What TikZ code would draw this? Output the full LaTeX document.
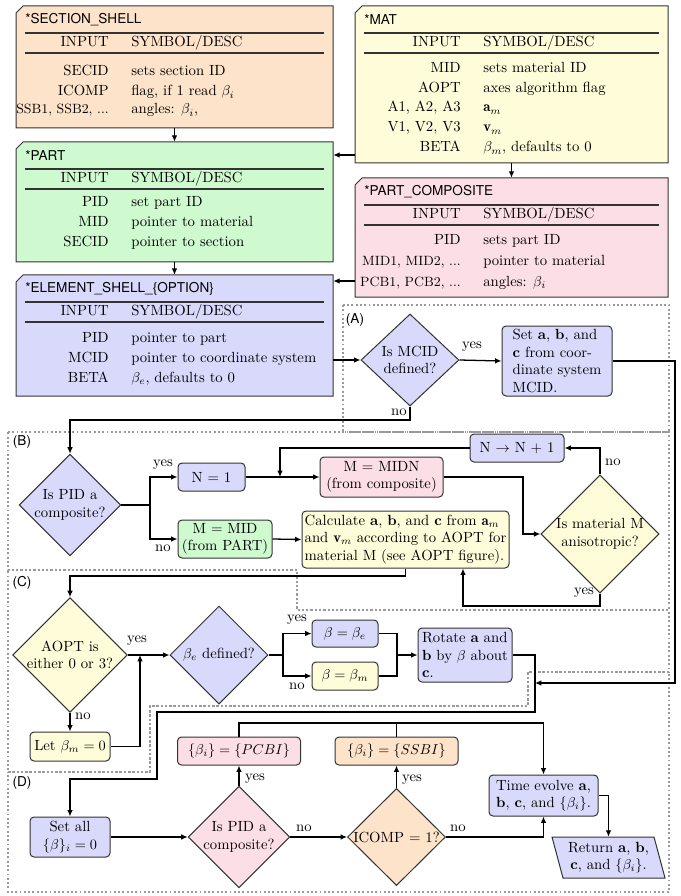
\documentclass[tikz,border=0pt]{standalone}
\usepackage{fontspec}
\newfontfamily\hd{TeX Gyre Heros}
\usetikzlibrary{arrows.meta,shapes.geometric}
\definecolor{cpeach}{HTML}{FDE3C9}
\definecolor{cyellow}{HTML}{FFFDD9}
\definecolor{cgreen}{HTML}{CFF9CF}
\definecolor{cpink}{HTML}{FCDEE7}
\definecolor{cblue}{HTML}{D9DAFB}
\definecolor{cedge}{HTML}{333333}
\definecolor{cdot}{HTML}{9A9A9A}
\newcommand{\sq}{\fontsize{9.4}{11}\selectfont}
\newcommand{\tbox}[8]{%
  \filldraw[fill=#6, draw=cedge, line width=0.7pt] (#2,#3+7) -- (#2+7,#3) -- (#4,#3) -- (#4,#5) -- (#2,#5) -- cycle;
  \node[minimum width={(#4-#2)*0.7pt}, minimum height={(#5-#3)*0.7pt}, inner sep=0pt] (#1) at ({(#2+#4)/2},{(#3+#5)/2}) {};
  \node[hdfont, anchor=west, inner sep=0pt] (#1-t) at (#2+9,#3+14) {#7};
  \draw[rulel] (#2+9,#3+27) -- (#4-9,#3+27);
  \node[anchor=base east, inner sep=0pt] (#1-h1) at (#8,#3+41) {INPUT};
  \node[anchor=base west, inner sep=0pt] (#1-h2) at (#8+22,#3+41) {SYMBOL/DESC};
  \draw[rulel] (#2+9,#3+47) -- (#4-9,#3+47);
}
\newcommand{\trow}[5]{%
  \node[anchor=base east, inner sep=0pt] (#1-l) at (#2,#3) {#4};
  \node[anchor=base west, inner sep=0pt] (#1-r) at (#2+22,#3) {#5};
}
\tikzset{
  hdfont/.style={font=\hd\fontsize{9.5}{11}\selectfont},
  rulel/.style={line width=0.8pt, draw=cedge},
  base/.style={draw=cedge, line width=0.7pt, inner sep=0pt},
  proc/.style={base, rounded corners=2.8pt, align=center},
  dia/.style={base, diamond, align=center},
  arr/.style={line width=0.9pt, -{Latex[length=4.5pt,width=4pt]}},
  ln/.style={line width=0.9pt},
  lbl/.style={inner sep=0pt},
  region/.style={draw=cdot, line width=1.3pt, dash pattern=on 1.3pt off 1.7pt},
  lab/.style={hdfont, inner sep=0pt}
}
\begin{document}
\begin{tikzpicture}[x=0.7pt, y=-0.7pt, font=\fontsize{10.3}{12.3}\selectfont]
\useasboundingbox (0,0) rectangle (680,896);

% ---------- dotted regions ----------
\draw[region] (343,305) rectangle (669,432);
\draw[region] (8,432) -- (669,432) -- (669,610) -- (297,610) -- (297,570) -- (8,570) -- cycle;
\draw[region] (8,570) -- (297,570) -- (297,610) -- (669,610) -- (669,672) -- (528,672) -- (528,706) -- (150,706) -- (150,772) -- (8,772) -- cycle;
\draw[region] (8,772) -- (150,772) -- (150,706) -- (528,706) -- (528,672) -- (669,672) -- (669,892) -- (8,892) -- cycle;
\node[lab] (rA) at (355,320) {(A)};
\node[lab] (rB) at (22,442) {(B)};
\node[lab] (rC) at (22,583) {(C)};
\node[lab] (rD) at (22,783) {(D)};

% ---------- tables ----------
\tbox{tSec}{16}{6}{333}{128}{cpeach}{*SECTION\_SHELL}{109}
\trow{sa}{109}{76}{SECID}{sets section ID}
\trow{sb}{109}{96}{ICOMP}{flag, if 1 read $\beta_i$}
\trow{sc}{109}{114}{\sq SSB1, SSB2, ...}{angles: $\beta_i$,}

\tbox{tMat}{355}{6}{668}{163}{cyellow}{*MAT}{461}
\trow{ma}{461}{73}{MID}{sets material ID}
\trow{mb}{461}{93}{AOPT}{axes algorithm flag}
\trow{mc}{461}{112}{A1, A2, A3}{$\mathbf{a}_m$}
\trow{md}{461}{132}{V1, V2, V3}{$\mathbf{v}_m$}
\trow{me}{461}{152}{BETA}{$\beta_m$, defaults to 0}

\tbox{tPart}{16}{142}{333}{262}{cgreen}{*PART}{109}
\trow{pa}{109}{207}{PID}{set part ID}
\trow{pb}{109}{227}{MID}{pointer to material}
\trow{pc}{109}{247}{SECID}{pointer to section}

\tbox{tComp}{355}{178}{668}{297}{cpink}{*PART\_COMPOSITE}{461}
\trow{ca}{461}{245}{PID}{sets part ID}
\trow{cb}{461}{266}{\sq MID1, MID2, ...}{pointer to material}
\trow{cc}{461}{286}{\sq PCB1, PCB2, ...}{angles: $\beta_i$}

\tbox{tElem}{16}{275}{333}{396}{cblue}{*ELEMENT\_SHELL\_\{OPTION\}}{109}
\trow{ea}{109}{342}{PID}{pointer to part}
\trow{eb}{109}{362}{MCID}{pointer to coordinate system}
\trow{ec}{109}{382}{BETA}{$\beta_e$, defaults to 0}

% ---------- flowchart nodes ----------
\node[dia, fill=cblue, minimum width=98*0.7pt, minimum height=92*0.7pt] (dA) at (410,360) {Is MCID\\defined?};
\node[proc, fill=cblue, minimum width=110*0.7pt, minimum height=70*0.7pt, align=left] (setABC) at (557,361) {Set \textbf{a}, \textbf{b}, and\\\textbf{c} from coor-\\dinate system\\MCID.};

\node[dia, fill=cblue, minimum width=101*0.7pt, minimum height=101*0.7pt] (dB) at (70,505) {Is PID a\\composite?};
\node[proc, fill=cblue, minimum width=67*0.7pt, minimum height=28*0.7pt] (N1) at (211.5,477) {N = 1};
\node[proc, fill=cgreen, minimum width=94*0.7pt, minimum height=38*0.7pt] (MMID) at (225,539) {M = MID\\(from PART)};
\node[proc, fill=cpink, minimum width=123*0.7pt, minimum height=40*0.7pt] (MMIDN) at (381.5,477) {M = MIDN\\(from composite)};
\node[proc, fill=cblue, minimum width=94*0.7pt, minimum height=28*0.7pt] (NN1) at (517,448) {N $\rightarrow$ N + 1};
\node[dia, fill=cyellow, minimum width=116*0.7pt, minimum height=115*0.7pt] (dAn) at (600,534) {Is material M\\anisotropic?};
\node[proc, fill=cyellow, minimum width=207*0.7pt, minimum height=57*0.7pt, align=left] (calc) at (405.5,539.5) {Calculate \textbf{a}, \textbf{b}, and \textbf{c} from $\mathbf{a}_m$\\and $\mathbf{v}_m$ according to AOPT for\\material M (see AOPT figure).};

\node[dia, fill=cyellow, minimum width=112*0.7pt, minimum height=110*0.7pt] (dAOPT) at (70,655) {AOPT is\\either 0 or 3?};
\node[dia, fill=cblue, minimum width=98*0.7pt, minimum height=98*0.7pt] (dBe) at (219,655) {$\beta_e$ defined?};
\node[proc, fill=cblue, minimum width=66*0.7pt, minimum height=27*0.7pt] (bBe) at (345,633.5) {$\beta = \beta_e$};
\node[proc, fill=cyellow, minimum width=66*0.7pt, minimum height=28*0.7pt] (bBm) at (345,676) {$\beta = \beta_m$};
\node[proc, fill=cblue, minimum width=94*0.7pt, minimum height=54*0.7pt, align=left] (rot) at (465,655) {Rotate \textbf{a} and\\\textbf{b} by $\beta$ about\\\textbf{c}.};
\node[proc, fill=cyellow, minimum width=80*0.7pt, minimum height=29*0.7pt] (letBm) at (70,746.5) {Let $\beta_m = 0$};

\node[proc, fill=cblue, minimum width=80*0.7pt, minimum height=40*0.7pt] (setall) at (70,837) {Set all\\$\{\beta\}_i = 0$};
\node[dia, fill=cpink, minimum width=100*0.7pt, minimum height=100*0.7pt] (dP2) at (239,837) {Is PID a\\composite?};
\node[proc, fill=cpink, minimum width=123*0.7pt, minimum height=28*0.7pt] (pcbi) at (239,751) {$\{\beta_i\} = \{PCBI\}$};
\node[dia, fill=cpeach, minimum width=98*0.7pt, minimum height=96*0.7pt] (dIC) at (396.5,837) {ICOMP = 1?};
\node[proc, fill=cpeach, minimum width=123*0.7pt, minimum height=28*0.7pt] (ssbi) at (396.5,751) {$\{\beta_i\} = \{SSBI\}$};
\node[proc, fill=cblue, minimum width=109*0.7pt, minimum height=41*0.7pt] (time) at (543.5,795.5) {Time evolve \textbf{a},\\\textbf{b}, \textbf{c}, and $\{\beta_i\}$.};
\filldraw[fill=cblue, draw=cedge, line width=0.7pt] (552,837) -- (654,837) -- (665,878) -- (563,878) -- cycle;
\node[minimum width=100*0.7pt, minimum height=41*0.7pt, inner sep=0pt, align=center] (ret) at (608.5,857.5) {Return \textbf{a}, \textbf{b},\\\textbf{c}, and $\{\beta_i\}$.};

% ---------- helper coordinates ----------
\coordinate (y155) at (0,155);
\coordinate (y281) at (0,281);
\coordinate (kA) at (410,420);
\coordinate (kR) at (675,683);
\coordinate (mg) at (535,683);
\coordinate (ja) at (150,505);
\coordinate (jn) at (280,477);
\coordinate (k1) at (523,477);
\coordinate (k2) at (600,606);
\coordinate (k3) at (463,606);
\coordinate (k4) at (405.5,576);
\coordinate (k5) at (140,655);
\coordinate (jb) at (283,655);
\coordinate (jr) at (397,655);
\coordinate (k7) at (535,712);
\coordinate (k8) at (157,712);
\coordinate (k10) at (70,779);
\coordinate (k13) at (239,723);
\coordinate (k14) at (543.5,723);
\coordinate (k15) at (396.5,723);
\coordinate (k16) at (543.5,837);
\coordinate (k17) at (608.5,795.5);

% ---------- connectors ----------
\draw[arr] (tSec.south) -- (tPart.north);
\draw[arr] (tPart.south) -- (tElem.north);
\draw[arr] (tMat.south) -- (tComp.north);
\draw[arr] (tMat.west |- y155) -- (tPart.east |- y155);
\draw[arr] (tComp.west |- y281) -- (tElem.east |- y281);
\draw[arr] (tElem.east |- dA.west) -- (dA.west);

\draw[arr] (dA.east) -- (setABC.west);
\draw[arr] (dA.south) -- (kA) -| (dB.north);
\draw[arr] (setABC.east) -| (kR) -- (mg);

\draw[ln] (dB.east) -- (ja);
\draw[arr] (ja) |- (N1.west);
\draw[arr] (ja) |- (MMID.west);
\draw[arr] (N1.east) -- (MMIDN.west);
\draw[arr] (NN1.west) -| (jn);
\draw[arr] (MMIDN.east) -- (k1) |- (dAn.west);
\draw[arr] (dAn.north) |- (NN1.east);
\draw[arr] (dAn.south) -- (k2) -- (k3) -- (k3 |- calc.south);
\draw[arr] (MMID.east) -- (calc.west);
\draw[arr] (calc.south) -- (k4) -| (dAOPT.north);

\draw[arr] (dAOPT.east) -- (dBe.west);
\draw[arr] (dAOPT.south) -- (letBm.north);
\draw[arr] (letBm.east) -| (k5);
\draw[ln] (dBe.east) -- (jb);
\draw[arr] (jb) |- (bBe.west);
\draw[arr] (jb) |- (bBm.west);
\draw[ln] (bBe.east) -| (jr);
\draw[ln] (bBm.east) -| (jr);
\draw[arr] (jr) -- (rot.west);
\draw[arr] (rot.east) -| (k7) -- (k8) |- (k10) -- (setall.north);

\draw[arr] (setall.east) -- (dP2.west);
\draw[arr] (dP2.north) -- (pcbi.south);
\draw[arr] (pcbi.north) -- (k13) -- (k14) -- (time.north);
\draw[ln] (ssbi.north) -- (k15);
\draw[arr] (dP2.east) -- (dIC.west);
\draw[arr] (dIC.north) -- (ssbi.south);
\draw[arr] (dIC.east) -- (k16) -- (time.south);
\draw[arr] (time.east) -- (k17) -- (ret.north);

% ---------- labels ----------
\node[lbl] (lyA) at (472,347) {yes};
\node[lbl] (lnA) at (399,412) {no};
\node[lbl] (lyB) at (163,465) {yes};
\node[lbl] (lnB) at (163,548) {no};
\node[lbl] (lnAn) at (613,462) {no};
\node[lbl] (lyAn) at (584,593) {yes};
\node[lbl] (lyC) at (137,641) {yes};
\node[lbl] (lnC) at (83,716) {no};
\node[lbl] (lyBe) at (297,620) {yes};
\node[lbl] (lnBe) at (297,686) {no};
\node[lbl] (lyD) at (255,779) {yes};
\node[lbl] (lnD) at (304,828) {no};
\node[lbl] (lyI) at (412,780) {yes};
\node[lbl] (lnI) at (458,828) {no};
\end{tikzpicture}
\end{document}
